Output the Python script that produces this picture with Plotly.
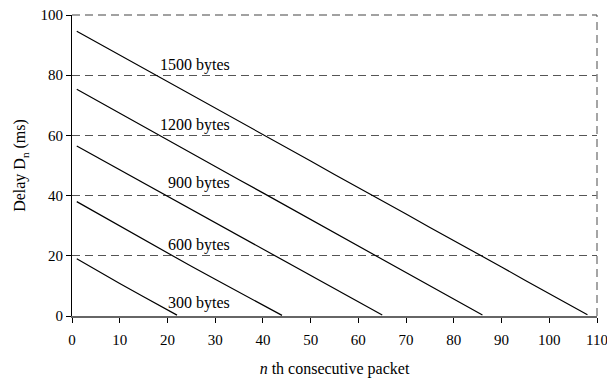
import plotly.graph_objects as go

# Data
n_1500 = [1, 5, 10, 15, 20, 25, 30, 35, 40, 45, 50, 55, 60, 65, 70, 75, 80, 85, 90, 95, 100, 105, 108]
d_1500 = [94.6, 91.1, 86.6, 82.3, 77.9, 73.4, 69.1, 64.6, 60.3, 55.8, 51.5, 47.0, 42.7, 38.2, 33.9, 29.4, 25.1, 20.6, 16.3, 11.8, 7.5, 3.0, 0.4]

n_1200 = [1, 5, 10, 15, 20, 25, 30, 35, 40, 45, 50, 55, 60, 65, 70, 75, 80, 86]
d_1200 = [75.3, 71.8, 67.4, 63.0, 58.5, 54.1, 49.7, 45.3, 40.9, 36.5, 32.1, 27.7, 23.3, 18.9, 14.5, 10.1, 5.6, 0.3]

n_900 = [1, 5, 10, 15, 20, 25, 30, 35, 40, 45, 50, 55, 60, 65]
d_900 = [56.5, 53.0, 48.6, 44.2, 39.8, 35.4, 31.0, 26.6, 22.2, 17.9, 13.5, 9.1, 4.7, 0.3]

n_600 = [1, 5, 10, 15, 20, 25, 30, 35, 40, 44]
d_600 = [38.0, 34.4, 29.9, 25.3, 20.8, 16.5, 12.2, 7.9, 3.6, 0.2]

n_300 = [1, 5, 10, 15, 20, 22]
d_300 = [19.0, 15.3, 10.8, 6.4, 2.0, 0.3]

series = [
    ("1500 bytes", n_1500, d_1500, 83.4),
    ("1200 bytes", n_1200, d_1200, 63.5),
    ("900 bytes", n_900, d_900, 44.2),
    ("600 bytes", n_600, d_600, 23.6),
    ("300 bytes", n_300, d_300, 4.4),
]
label_x = 33.6

x_ticks = list(range(0, 111, 10))
y_ticks = list(range(0, 101, 20))

FONT = "Liberation Serif, Times New Roman, serif"
DASH = "8px,5px"

fig = go.Figure()
for name, xs, ys, ly in series:
    fig.add_trace(go.Scatter(x=xs, y=ys, mode="lines", name=name,
                             line=dict(color="black", width=1.2), showlegend=False))
    fig.add_annotation(x=label_x, y=ly, text=name, showarrow=False,
                       xanchor="right", yanchor="middle",
                       font=dict(family=FONT, size=16, color="black"))

# right border and top gridline (dashed)
fig.add_shape(type="line", xref="paper", yref="paper", x0=1, x1=1, y0=0, y1=1,
              line=dict(color="#888888", width=1.5, dash=DASH))
fig.add_shape(type="line", xref="paper", yref="paper", x0=0, x1=1, y0=1, y1=1,
              line=dict(color="#444444", width=1.2, dash=DASH))

fig.update_layout(
    width=607, height=381,
    margin=dict(l=72, r=10, t=15, b=65, autoexpand=False),
    plot_bgcolor="white", paper_bgcolor="white",
    font=dict(family=FONT, size=15, color="black"),
    xaxis=dict(range=[0, 110], tickvals=x_ticks, showgrid=False, zeroline=False,
               showline=True, linecolor="#666666", linewidth=1.5,
               ticks="outside", ticklen=5, tickcolor="black",
               ticklabeloverflow="allow", automargin=False,
               ticklabelstandoff=4,
               tickfont=dict(family=FONT, size=15),
               title=dict(text="<i>n</i> th consecutive packet", standoff=16,
                          font=dict(family=FONT, size=16))),
    yaxis=dict(range=[0, 100], tickvals=y_ticks, showgrid=True, gridcolor="#555555",
               griddash=DASH, gridwidth=1, zeroline=False,
               showline=True, linecolor="black", linewidth=1.2,
               ticks="outside", ticklen=5, tickcolor="black",
               automargin=False,
               tickfont=dict(family=FONT, size=15),
               title=dict(text="Delay D<sub>n</sub> (ms)", standoff=10,
                          font=dict(family=FONT, size=16))),
)

fig.write_html("out.html")
